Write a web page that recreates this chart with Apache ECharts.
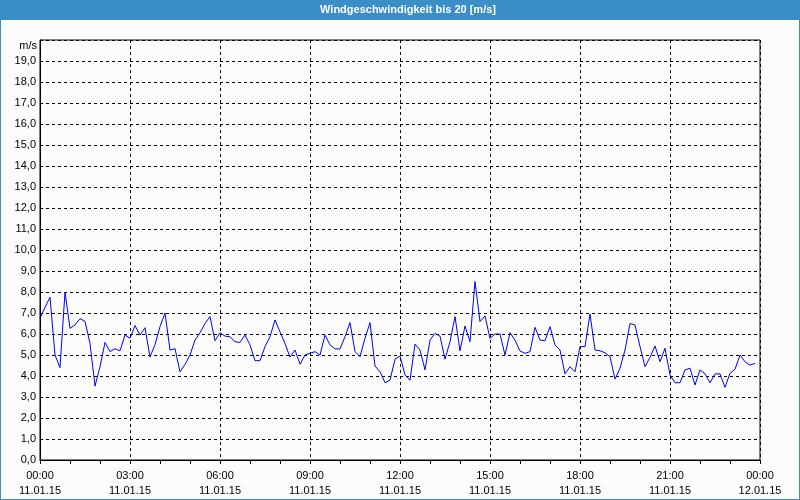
<!DOCTYPE html>
<html>
<head>
<meta charset="utf-8">
<script src="https://cdn.jsdelivr.net/npm/echarts@6/dist/echarts.min.js"></script>
<style>
html,body{margin:0;padding:0;background:#fbfcfb;overflow:hidden;}
#wrap{position:relative;width:800px;height:500px;}
#chart{width:800px;height:500px;}
#frame{position:absolute;left:0;top:0;width:800px;height:500px;box-sizing:border-box;border:1px solid #3b8fc8;pointer-events:none;}
</style>
</head>
<body>
<div id="wrap"><div id="chart"></div><div id="frame"></div></div>
<script>
// Data: wind speed (m/s), 10-minute samples starting 11.01.15 00:00
var stepMinutes = 10;
var windSpeed = [
  6.75, 7.27, 7.75, 5.0, 4.4, 8.0, 6.27, 6.43, 6.73, 6.6,
  5.55, 3.52, 4.44, 5.6, 5.16, 5.3, 5.2, 5.95, 5.8, 6.4,
  5.95, 6.3, 4.9, 5.5, 6.35, 7.0, 5.24, 5.3, 4.2, 4.55,
  5.0, 5.71, 6.06, 6.5, 6.83, 5.68, 6.06, 5.9, 5.87, 5.63,
  5.6, 5.95, 5.48, 4.73, 4.73, 5.4, 5.87, 6.67, 6.1, 5.55,
  4.9, 5.24, 4.56, 5.0, 5.08, 5.16, 5.0, 5.95, 5.48, 5.29,
  5.29, 5.87, 6.54, 5.16, 4.92, 5.8, 6.54, 4.48, 4.2, 3.68,
  3.8, 4.8, 4.95, 4.05, 3.8, 5.52, 5.24, 4.29, 5.71, 6.03,
  5.9, 4.8, 5.63, 6.83, 5.2, 6.38, 5.63, 8.5, 6.59, 6.86,
  5.79, 6.0, 6.0, 5.0, 6.06, 5.71, 5.19, 5.08, 5.16, 6.32,
  5.71, 5.68, 6.35, 5.48, 5.24, 4.1, 4.44, 4.2, 5.4, 5.4,
  6.95, 5.24, 5.2, 5.11, 4.92, 3.85, 4.37, 5.24, 6.5, 6.43,
  5.4, 4.44, 4.89, 5.43, 4.68, 5.32, 4.05, 3.68, 3.68, 4.29,
  4.37, 3.57, 4.29, 4.1, 3.68, 4.1, 4.1, 3.46, 4.13, 4.32,
  5.0, 4.68, 4.52, 4.6
];
// X tick labels every 3 hours (minutes from start)
var tickMinutes = [0, 180, 360, 540, 720, 900, 1080, 1260, 1440];
var tickTimes = ['00:00','03:00','06:00','09:00','12:00','15:00','18:00','21:00','00:00'];
var tickDates = ['11.01.15','11.01.15','11.01.15','11.01.15','11.01.15','11.01.15','11.01.15','11.01.15','12.01.15'];
var titleText = 'Windgeschwindigkeit bis 20 [m/s]';
var unitText = 'm/s';

var seriesData = windSpeed.map(function (v, i) { return [i * stepMinutes, v]; });

var chart = echarts.init(document.getElementById('chart'), null, {renderer: 'canvas'});
var font = 'Liberation Sans';
chart.setOption({
  backgroundColor: '#fbfcfb',
  animation: false,
  grid: {left: 40, top: 40, width: 720, height: 420, show: true, borderColor: '#000', borderWidth: 1, backgroundColor: 'transparent'},
  graphic: [
    {type: 'rect', left: 0, top: 0, shape: {width: 800, height: 20}, style: {fill: '#3b8fc8'}, z: 10},
    {type: 'text', x: 408, y: 10, style: {text: titleText, fill: '#fff', font: 'bold 11px ' + font, textAlign: 'center', textVerticalAlign: 'middle'}, z: 11},
    {type: 'text', x: 37, y: 46, style: {text: unitText, fill: '#000', font: '11px ' + font, textAlign: 'right', textVerticalAlign: 'middle'}, z: 11}
  ],
  xAxis: {
    type: 'value', min: 0, max: 1440, interval: 180,
    axisLine: {show: true, lineStyle: {color: '#000', width: 1}},
    axisTick: {show: true, length: 4, lineStyle: {color: '#000'}},
    minorTick: {show: true, splitNumber: 3, length: 4, lineStyle: {color: '#000'}},
    splitLine: {show: true, lineStyle: {color: '#000', type: [3, 3], width: 1}},
    axisLabel: {
      color: '#000', fontFamily: font, fontSize: 11, lineHeight: 15, margin: 8,
      showMinLabel: true, showMaxLabel: true,
      formatter: function (v) {
        var i = tickMinutes.indexOf(v);
        return i < 0 ? '' : tickTimes[i] + '\n' + tickDates[i];
      }
    }
  },
  yAxis: {
    type: 'value', min: 0, max: 20, interval: 1,
    axisLine: {show: true, lineStyle: {color: '#000', width: 1}},
    axisTick: {show: false},
    splitLine: {show: true, lineStyle: {color: '#000', type: [3, 3], width: 1}},
    axisLabel: {
      color: '#000', fontFamily: font, fontSize: 11, margin: 4,
      formatter: function (v) { return v >= 20 ? '' : v.toFixed(1).replace('.', ','); }
    }
  },
  series: [{
    type: 'line', data: seriesData, showSymbol: false, symbol: 'none',
    lineStyle: {color: '#0000ff', width: 1}, itemStyle: {color: '#0000ff'}
  }]
});
</script>
</body>
</html>
